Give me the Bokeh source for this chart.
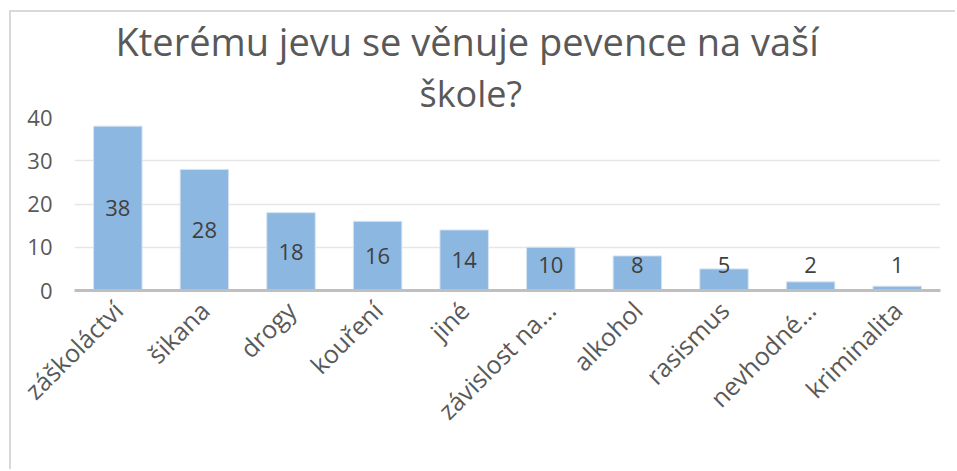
from bokeh.plotting import figure
from bokeh.models import ColumnDataSource, FactorRange, Range1d, Title, LabelSet, SingleIntervalTicker
from bokeh.core.properties import value
from bokeh.embed import file_html
from bokeh.resources import INLINE
import math

categories = ["záškoláctví", "šikana", "drogy", "kouření", "jiné",
              "závislost na…", "alkohol", "rasismus", "nevhodné…", "kriminalita"]
values = [38, 28, 18, 16, 14, 10, 8, 5, 2, 1]
labels = [str(v) for v in values]
title_line1 = "Kterému jevu se věnuje pevence na vaší"
title_line2 = "škole?"

FONT = "Open Sans"
GREY = "#595959"

label_y = [max(v / 2.0, 6.0) for v in values]
src = ColumnDataSource(dict(cat=categories, val=values, lab=labels, ly=label_y))

p = figure(x_range=FactorRange(*categories), y_range=Range1d(0, 40),
           width=946, height=459, output_backend="svg", toolbar_location=None,
           min_border_left=63, min_border_right=17, min_border_top=20,
           min_border_bottom=181)
p.title = None
p.styles = {"margin-left": "9px", "margin-top": "10px",
            "border-left": "2px solid #d9d9d9", "border-top": "2px solid #d9d9d9"}

p.vbar(x="cat", top="val", width=0.56, source=src, fill_color="#8cb7e1",
       line_color="#d6e4f2", line_width=1)

lbl = LabelSet(x="cat", y="ly", text="lab", source=src, text_align="center",
               text_baseline="middle", text_font=value(FONT), text_font_size="22px",
               text_color="#404040")
p.add_layout(lbl)

t2 = Title(text=title_line2, align="left", text_font=FONT, text_font_size="36px",
           text_font_style="normal", text_color=GREY, offset=345, standoff=0)
t1 = Title(text=title_line1, align="left", text_font=FONT, text_font_size="38px",
           text_font_style="normal", text_color=GREY, offset=41, standoff=0)
p.add_layout(t2, "above")
p.add_layout(t1, "above")

p.outline_line_color = None
p.xgrid.grid_line_color = None
p.ygrid.grid_line_color = "#e6e6e6"
p.ygrid.grid_line_width = 1.5

p.yaxis.ticker = SingleIntervalTicker(interval=10)
p.yaxis.axis_line_color = None
p.yaxis.major_tick_line_color = None
p.yaxis.minor_tick_line_color = None
p.yaxis.major_label_standoff = 16
p.yaxis.major_label_text_font = FONT
p.yaxis.major_label_text_font_size = "22px"
p.yaxis.major_label_text_color = GREY

p.xaxis.axis_line_color = "#bfbfbf"
p.xaxis.axis_line_width = 3
p.xaxis.major_tick_line_color = None
p.xaxis.minor_tick_line_color = None
p.xaxis.major_label_orientation = math.pi / 4
p.xaxis.major_label_standoff = 9
p.xaxis.major_label_text_font = FONT
p.xaxis.major_label_text_font_size = "25px"
p.xaxis.major_label_text_color = GREY

p.x_range.range_padding = 0
p.x_range.group_padding = 0

open("out.html", "w").write(file_html(p, INLINE))
